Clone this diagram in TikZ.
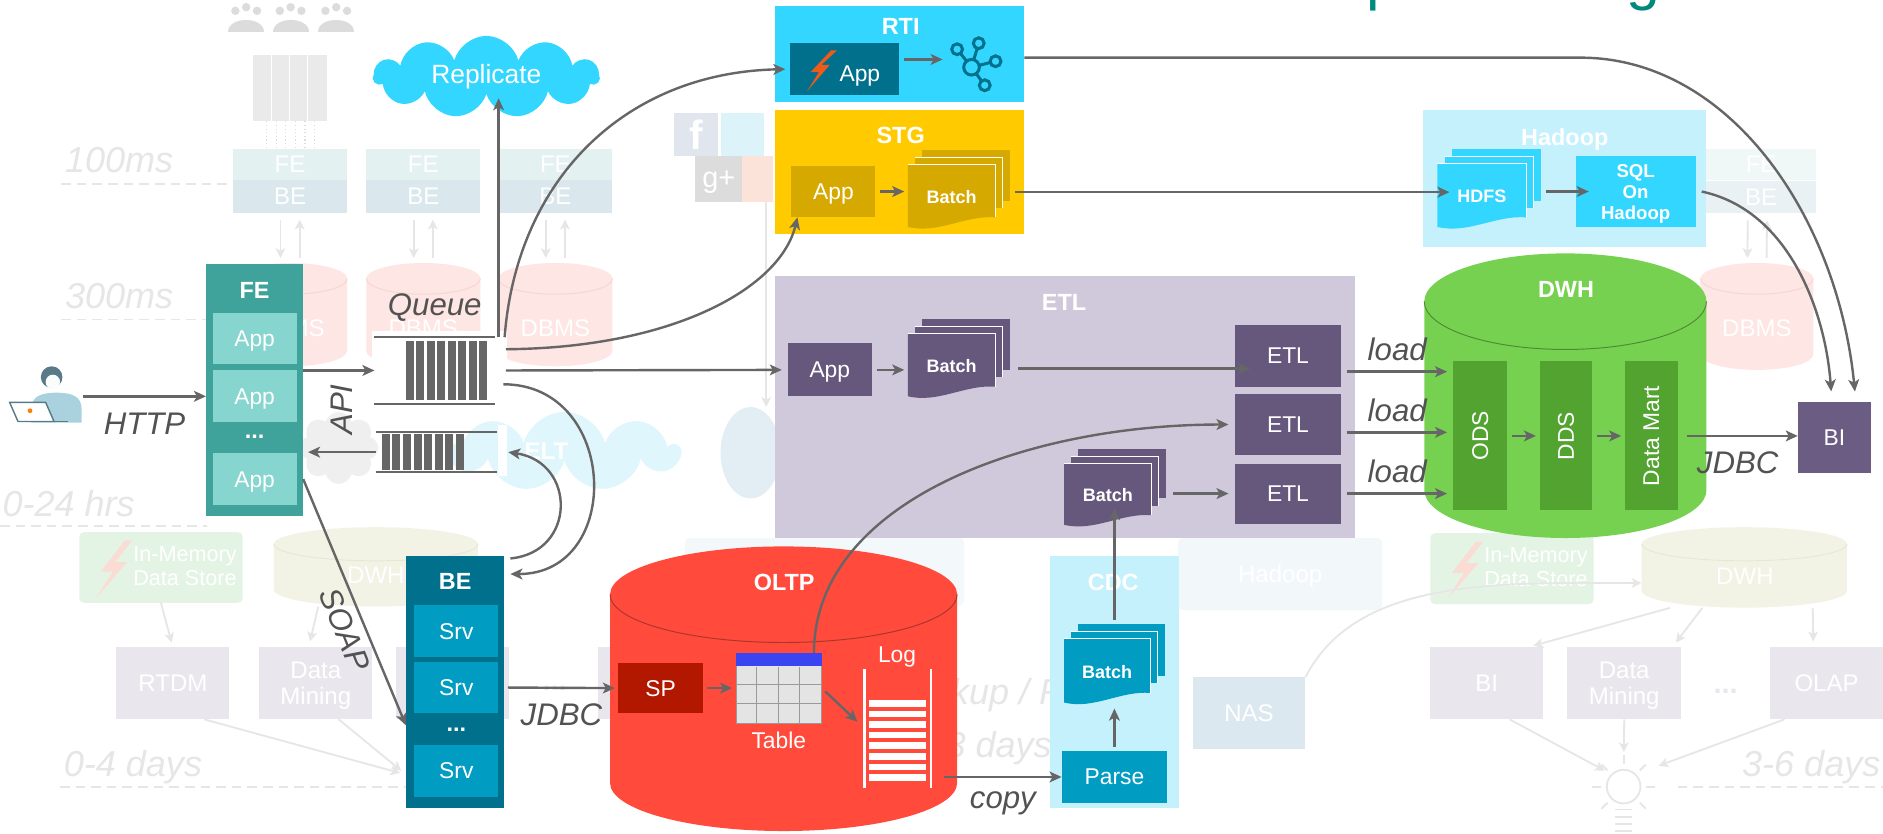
\documentclass[tikz,border=0pt]{standalone}
\usepackage{fontspec}
\setmainfont{Liberation Sans}
\usetikzlibrary{arrows.meta,shapes.symbols}

% palette
\definecolor{arrgray}{HTML}{666666}
\definecolor{lblgray}{HTML}{525252}
\definecolor{feteal}{HTML}{3FA39B}
\definecolor{appteal}{HTML}{87D5CF}
\definecolor{bedark}{HTML}{00708C}
\definecolor{srvblue}{HTML}{009CC2}
\definecolor{cyanbg}{HTML}{33D6FF}
\definecolor{lightcyan}{HTML}{C4F1FC}
\definecolor{stggold}{HTML}{FFCA00}
\definecolor{stgdark}{HTML}{D6A900}
\definecolor{etlbg}{HTML}{D0C9DC}
\definecolor{etlbox}{HTML}{66587C}
\definecolor{bipurple}{HTML}{6B5C84}
\definecolor{dwhgreen}{HTML}{77D150}
\definecolor{dwhdark}{HTML}{52A32F}
\definecolor{dwhedge}{HTML}{4F8A35}
\definecolor{oltpred}{HTML}{FF4A3C}
\definecolor{oltpedge}{HTML}{A8372C}
\definecolor{spred}{HTML}{B21800}
\definecolor{tblgray}{HTML}{E4E4E4}
\definecolor{tblline}{HTML}{9A9A9A}
\definecolor{tblblue}{HTML}{3A44F0}
\definecolor{boltorange}{HTML}{EE5A1A}
\definecolor{userblue}{HTML}{A9D2DE}
\definecolor{userhair}{HTML}{5B7A88}
\definecolor{titleteal}{HTML}{00897D}
% washed-out backdrop
\definecolor{fadetext}{HTML}{E6E6E6}
\definecolor{fadeline}{HTML}{E6E6E6}
\definecolor{fadebox}{HTML}{E9E7ED}
\definecolor{fadefe}{HTML}{E4F1F1}
\definecolor{fadebe}{HTML}{DAE8ED}
\definecolor{fadedb}{HTML}{FDE6E3}
\definecolor{fadedbedge}{HTML}{F5D6D2}
\definecolor{fadedwh}{HTML}{F2F3E5}
\definecolor{fadedwhedge}{HTML}{E6E8D6}
\definecolor{fademem}{HTML}{E4F4E4}
\definecolor{fadebolt}{HTML}{FBDCD4}
\definecolor{fadenas}{HTML}{DCE8EF}
\definecolor{fadehdp}{HTML}{F2F8FA}
\definecolor{fadecyan}{HTML}{DFF6FC}
\definecolor{fadegrey}{HTML}{EFEFEF}
\definecolor{fadeicon}{HTML}{DCDCDC}
\definecolor{fadeglobe}{HTML}{E2EEF4}
\definecolor{fadefb}{HTML}{E0E5EE}
\definecolor{fadetw}{HTML}{DDF3FA}
\definecolor{faderss}{HTML}{FBE3DA}

\tikzset{
  wh/.style 2 args={minimum width={(#1)*1pt}, minimum height={(#2)*1pt}},
  arr/.style={draw=arrgray, line width=2pt, -{Stealth[length=10pt,width=9pt,inset=2.5pt]}},
  farr/.style={draw=fadeline, line width=1.5pt, -{Stealth[length=8pt,width=8pt,inset=2pt]}},
  lbl/.style={text=lblgray, inner sep=0pt, font=\itshape\fontsize{26}{26}\selectfont},
  blk/.style={rectangle, inner sep=0pt, outer sep=0pt, text=white, text depth=0pt,
    font=\fontsize{19}{21}\selectfont},
  ttl/.style={inner sep=0pt, text=white, text depth=0pt, font=\bfseries\fontsize{19.5}{21}\selectfont},
  fadenode/.style={blk, font=\fontsize{20}{22}\selectfont},
  ftime/.style={text=fadetext, inner sep=0pt, anchor=base west, font=\itshape\fontsize{30}{30}\selectfont},
  fdash/.style={draw=fadetext, line width=1.5pt, dash pattern=on 8pt off 5pt},
  qline/.style={draw=arrgray, line width=2pt},
}

% stack of sheets: name, x0, y0, x1, y1, colour, text
\newcommand{\docstack}[7]{%
  \fill[#6] (#2+12,#3-12) rectangle (#4+12,#5-24);
  \fill[#6] (#2+6,#3-6) rectangle (#4+6,#5-18);
  \draw[white, line width=0.8pt] (#2+6,#3-6) -- (#4+6,#3-6) -- (#4+6,#5-18);
  \fill[#6] (#2,#3) -- (#4,#3) -- (#4,#5-10)
    .. controls ({#4-0.35*(#4-#2)},{#5-12}) and ({#2+0.35*(#4-#2)},{#5+4}) .. (#2,#5-2) -- cycle;
  \draw[white, line width=0.8pt] (#2,#3) -- (#4,#3) -- (#4,#5-10);
  \node[blk, wh={(#4)-(#2)}{(#5)-(#3)}, font=\bfseries\fontsize{15}{17}\selectfont]
    (#1) at ({(#2+#4)/2},{(#3+#5)/2}) {#7};
}

% cylinder: name, centre x, x radius, top y, bottom y, y radius, fill, rim
\newcommand{\drum}[8]{%
  \fill[#7] (#2-#3,#5) arc[start angle=180,end angle=360,x radius=#3pt,y radius=#6pt]
    -- (#2+#3,#4) arc[start angle=0,end angle=180,x radius=#3pt,y radius=#6pt] -- cycle;
  \draw[#8, line width=0.8pt] (#2-#3,#4) arc[start angle=180,end angle=360,x radius=#3pt,y radius=#6pt];
  \node[inner sep=0pt, wh={2*#3}{#5-#4+2*#6}] (#1) at (#2,{(#4+#5)/2}) {};
}

\begin{document}
\begin{tikzpicture}[x=1pt,y=-1pt]
  \clip (0,0) rectangle (1568,694);
  \fill[white] (0,0) rectangle (1568,694);

  % heading, cut by the top edge
  \node[anchor=base west, inner sep=0pt, text=titleteal, font=\fontsize{50.5}{50}\selectfont] (heading) at (1138,-1) {processing};

  %% backdrop: latency tiers
  \node[ftime] (t100) at (54,144) {100ms};
  \node[ftime] (t300) at (54,257) {300ms};
  \node[ftime] (t24) at (2,430) {0-24 hrs};
  \node[ftime] (t4) at (53,647) {0-4 days};
  \node[ftime, anchor=base east] (t6) at (1566,647) {3-6 days};
  \begin{scope}
    \clip (700,540) rectangle (874,640);
    \node[ftime] (tbk) at (740,587) {Backup / Restore};
    \node[ftime, anchor=base east] (t3) at (876,631) {1-3 days};
  \end{scope}
  \draw[fdash] (51,153) -- (190,153);
  \draw[fdash] (51,266) -- (172,266);
  \draw[fdash] (0,438) -- (172,438);
  \draw[fdash] (50,655) -- (338,655);
  \draw[fdash] (1397,655) -- (1568,655);

  %% backdrop: users and server farm
  \foreach \cx in {205,242,280}{
    \foreach \dx/\dy in {-9/9,0/6,9/9}
      \fill[fadeicon] (\cx+\dx,\dy) circle[radius=3.5pt];
    \fill[fadeicon] (\cx-15,27) .. controls (\cx-15,13) and (\cx+15,13) .. (\cx+15,27) -- cycle;
  }
  \fill[fadeicon!60] (211,46) rectangle (272,101);
  \foreach \rx in {226,241,256} \draw[white, line width=1pt] (\rx,46) -- (\rx,101);
  \foreach \dx in {222,230,...,262} \draw[fadeicon, line width=1pt, dotted] (\dx,101) -- (\dx,123);

  %% backdrop: web tier and databases
  \foreach \n/\cx in {a/241.5,b/352.5,c/462.5}{
    \drum{db\n}{\cx}{47.5}{232}{292}{13}{fadedb}{fadedbedge}
    \node[fadenode] (dbt\n) at (\cx,273) {DBMS};
    \node[fadenode, fill=fadefe, wh={95}{26}] (fe\n) at (\cx,137) {FE};
    \node[fadenode, fill=fadebe, wh={95}{27}] (be\n) at (\cx,163.5) {BE};
    \draw[farr, shorten <=6pt, shorten >=4pt] ([xshift=-8pt]be\n.south) -- ([xshift=-8pt]db\n.north);
    \draw[farr, shorten <=4pt, shorten >=6pt] ([xshift=8pt]db\n.north) -- ([xshift=8pt]be\n.south);
  }
  \drum{dbd}{1463}{47}{232}{295}{13}{fadedb}{fadedbedge}
  \node[fadenode] (dbtd) at (1463,273) {DBMS};
  \node[fadenode, fill=fadefe!60, wh={91}{26}] (fed) at (1466.5,137) {FE};
  \node[fadenode, fill=fadebe!60, wh={91}{27}] (bed) at (1466.5,164) {BE};
  \draw[farr, shorten <=6pt, shorten >=4pt] ([xshift=-11pt]bed.south) -- ([xshift=-8pt]dbd.north);
  \draw[farr, shorten <=4pt, shorten >=6pt] ([xshift=8pt]dbd.north) -- ([xshift=5pt]bed.south);

  %% backdrop: social feeds
  \node[fadenode, fill=fadefb, wh={37}{36}, font=\bfseries\fontsize{34}{34}\selectfont] (fb) at (579.5,112) {f};
  \node[fadenode, fill=fadetw, wh={36}{36}] (tw) at (618,112) {};
  \node[fadenode, fill=fadeicon, wh={39}{38}, font=\fontsize{24}{24}\selectfont] (gp) at (598.5,149) {g+};
  \node[fadenode, fill=faderss, wh={26}{38}] (rss) at (631,149) {};
  \fill[fadeglobe] (625,377) ellipse[x radius=25pt, y radius=38pt];
  \node[inner sep=0pt, wh={50}{76}] (globe) at (625,377) {};
  \draw[farr] ([xshift=7pt]rss.south) -- ([xshift=13pt]globe.north);

  %% backdrop: clouds
  \node[cloud, cloud puffs=9, aspect=2.6, fill=fadecyan, inner sep=0pt, minimum width=190pt, minimum height=66pt] (eltc) at (470,376) {};
  \node[fadenode, font=\bfseries\fontsize{20}{22}\selectfont] (eltt) at (455,376) {ELT};
  \node[cloud, cloud puffs=8, aspect=1.1, fill=fadegrey, inner sep=0pt, minimum width=66pt, minimum height=60pt] (gcl) at (282,373) {};

  %% backdrop: analytics row
  \node[fadenode, fill=fademem, rounded corners=4pt, wh={136}{59}] (imdl) at (134,472.5) {};
  \fill[fadebolt] (104,450) -- (84,476) -- (94,476) -- (80,498) -- (106,468) -- (96,468) -- (110,450) -- cycle;
  \node[fadenode, align=center, font=\fontsize{18}{20}\selectfont] (imdlt) at (154,471) {In-Memory\\Data Store};
  \node[fadenode, fill=fademem, rounded corners=4pt, wh={136}{59}] (imdr) at (1259,473.5) {};
  \fill[fadebolt] (1229,451) -- (1209,477) -- (1219,477) -- (1205,499) -- (1231,469) -- (1221,469) -- (1235,451) -- cycle;
  \node[fadenode, align=center, font=\fontsize{18}{20}\selectfont] (imdrt) at (1279,472) {In-Memory\\Data Store};
  \node[fadenode, fill=fadeglobe!40, rounded corners=4pt, wh={233}{56}] (cyanf) at (686.5,476) {};
  \node[fadenode, fill=fadehdp, rounded corners=4pt, wh={170}{60}] (hdpf) at (1066,478) {Hadoop};
  \drum{dwhl}{313}{85}{453}{491}{14}{fadedwh}{fadedwhedge}
  \node[fadenode] (dwhlt) at (313,479) {DWH};
  \drum{dwhr}{1452.5}{85.5}{453}{492}{14}{fadedwh}{fadedwhedge}
  \node[fadenode] (dwhrt) at (1453,480) {DWH};
  \node[fadenode, fill=fadebox, wh={94}{60}] (rtdm) at (144,569) {RTDM};
  \node[fadenode, fill=fadebox, wh={94}{60}, align=center] (dminl) at (263,569) {Data\\Mining};
  \node[fadenode, fill=fadebox, wh={94}{60}] (boxl) at (377,569) {};
  \node[fadenode, fill=fadebox, wh={94}{60}] (boxm) at (545,569) {};
  \node[fadenode, text=fadebox, font=\bfseries\fontsize{24}{24}\selectfont] (dotsl) at (462,573) {...};
  \node[fadenode, fill=fadebox, wh={94}{60}] (bir) at (1238,569) {BI};
  \node[fadenode, fill=fadebox, wh={95}{60}, align=center] (dminr) at (1352.5,569) {Data\\Mining};
  \node[fadenode, fill=fadebox, wh={94}{60}] (olap) at (1521,569) {OLAP};
  \node[fadenode, text=fadebox, font=\bfseries\fontsize{24}{24}\selectfont] (dotsr) at (1437,576) {...};
  \node[fadenode, fill=fadenas, wh={94}{60}] (nas) at (1040,594) {NAS};

  % light bulb
  \node[circle, draw=fadeline, line width=1.5pt, minimum size=28pt, inner sep=0pt] (bulb) at (1352,655) {};
  \foreach \a in {0,45,90,135,180,-45,-135}
    \draw[fadeline, line width=1.5pt] (bulb.center) ++(\a:19pt) -- ++(\a:7pt);
  \foreach \yy in {674,680,686,692} \draw[fadeline, line width=1.5pt] (1345,\yy) -- (1359,\yy);

  %% user
  \node[inner sep=0pt, wh={62}{50}] (user) at (38,330) {};
  \fill[userblue] (26,352) -- (26,341) .. controls (26,330) and (34,327) .. (47,327)
    .. controls (60,327) and (68,330) .. (68,341) -- (68,352) -- cycle;
  \fill[userhair] (43,314) circle[radius=9pt];
  \fill[white!95!userblue] (44,318) circle[radius=6pt];
  \filldraw[fill=white, draw=userhair, line width=1.2pt] (8,335) -- (38,335) -- (45,351) -- (15,351) -- cycle;
  \draw[userhair, line width=1.2pt] (15,351) -- (57,351);
  \fill[orange] (25,342) circle[radius=2pt];

  %% front end
  \node[blk, fill=feteal, wh={81}{210}] (fe) at (212,325) {};
  \node[ttl] (fet) at (212,242) {FE};
  \node[blk, fill=appteal, wh={70}{43}] (app1) at (212,282) {App};
  \node[blk, fill=appteal, wh={70}{43}] (app2) at (212,330) {App};
  \node[ttl] (fedots) at (212,364) {...};
  \node[blk, fill=appteal, wh={70}{43}] (app3) at (212,399) {App};

  %% queues
  \fill[white] (310,276) rectangle (422,340);
  \node[inner sep=0pt, wh={100}{55}] (queue) at (362,308.5) {};
  \draw[qline] (queue.north west) -- (queue.north east);
  \draw[qline] (queue.south west) -- (queue.south east);
  \foreach \i in {0,...,7} \fill[arrgray] (338+\i*8.7,284) rectangle (344.6+\i*8.7,333);
  \node[lbl, above=13pt] (queuet) at (queue.north) {Queue};
  \node[inner sep=0pt, wh={101}{33}] (reply) at (363.5,376.5) {};
  \draw[qline] (reply.north west) -- (reply.north east);
  \draw[qline] (reply.south west) -- (reply.south east);
  \foreach \i in {0,...,7} \fill[arrgray] (318+\i*8.8,361) rectangle (324.6+\i*8.8,391);
  \fill[white] (415,354) rectangle (422,396);
  \node[lbl, rotate=90] (api) at (285,341) {API};

  \node[cloud, cloud puffs=11, aspect=3.1, fill=cyanbg, inner sep=0pt, minimum width=188pt, minimum height=60pt,
    text=white, font=\fontsize{22}{22}\selectfont] (rep) at (405,64) {Replicate};

  %% back end
  \node[blk, fill=bedark, wh={82}{210}] (be) at (379,568) {};
  \node[ttl] (bet) at (379,484) {BE};
  \node[blk, fill=srvblue, wh={70}{43}] (srv1) at (380,525.5) {Srv};
  \node[blk, fill=srvblue, wh={70}{43}] (srv2) at (380,572.5) {Srv};
  \node[ttl] (bedots) at (380,608) {...};
  \node[blk, fill=srvblue, wh={70}{44}] (srv3) at (380,642) {Srv};

  % faint flows around the analytics row
  \draw[farr, shorten >=4pt] (imdl.south) -- (rtdm.north);
  \draw[farr, shorten >=5pt] ([xshift=-48pt]dwhl.south) -- ([xshift=-6pt]dminl.north);
  \draw[farr, shorten >=5pt] ([xshift=26pt]rtdm.south) -- ([yshift=-77pt]be.west);
  \draw[farr, shorten >=5pt] ([xshift=19pt]dminl.south) -- ([yshift=-77pt]be.west);
  \draw[farr, shorten >=5pt] ([xshift=-62pt]dwhr.south) -- ([xshift=34pt]bir.north);
  \draw[farr, shorten >=5pt] ([xshift=-35pt]dwhr.south) -- ([xshift=40pt]dminr.north);
  \draw[farr, shorten >=5pt] ([xshift=57pt]dwhr.south) -- ([xshift=-11pt]olap.north);
  \draw[farr, shorten >=6pt] ([xshift=19pt]bir.south) -- (bulb.north west);
  \draw[farr, shorten >=14pt] (dminr.south) -- (bulb.north);
  \draw[farr, shorten >=20pt] ([xshift=-35pt]olap.south) -- (bulb.north east);
  \draw[farr] (nas.north east) .. controls +(43,-84) and +(-117,0) .. ([yshift=-13pt]dwhr.west);

  %% real-time ingest
  \node[blk, fill=cyanbg, wh={208}{80}] (rti) at (749,45) {};
  \node[ttl] (rtit) at (750,22) {RTI};
  \node[blk, fill=bedark, wh={91}{43}] (rtiapp) at (703.5,57.5) {};
  \fill[boltorange] (692,42) -- (675,60) -- (682,60) -- (672,76) -- (691,54) -- (684,54) -- (697,42) -- cycle;
  \node[blk] (rtiappt) at (716,61) {App};
  \coordinate (kin) at (785,49.5);
  \foreach \kx/\ky in {797/41,815/36,829/51,820/71}
    \draw[bedark, line width=2.5pt] (809,56) -- (\kx,\ky);
  \foreach \kx/\ky in {797/41,815/36,829/51,820/71}
    \filldraw[fill=cyanbg, draw=bedark, line width=2.5pt] (\kx,\ky) circle[radius=4.5pt];
  \filldraw[fill=cyanbg, draw=bedark, line width=2.5pt] (809,56) circle[radius=6.5pt];

  %% staging
  \node[blk, fill=stggold, wh={208}{103}] (stg) at (749,143.5) {};
  \node[ttl] (stgt) at (750,113) {STG};
  \node[blk, fill=stgdark, wh={70}{43}] (stgapp) at (694,159.5) {App};
  \docstack{stgbatch}{756}{137}{829}{191}{stgdark}{Batch}

  %% hadoop
  \node[blk, fill=lightcyan, wh={236}{114}] (hadoop) at (1303,149) {};
  \node[ttl] (hadoopt) at (1303,114) {Hadoop};
  \docstack{hdfs}{1197}{136}{1271}{191}{cyanbg}{HDFS}
  \node[blk, fill=cyanbg, wh={100}{59}, align=center, font=\bfseries\fontsize{15.5}{17.5}\selectfont] (sql) at (1362,159.5) {SQL\\On\\Hadoop};

  %% etl
  \node[blk, fill=etlbg, wh={483}{218}] (etl) at (886.5,339) {};
  \node[ttl] (etlt) at (886,252) {ETL};
  \node[blk, fill=etlbox, wh={70}{44}] (etlapp) at (691,308) {App};
  \docstack{etlbatch}{756}{278}{829}{332}{etlbox}{Batch}
  \docstack{etlbatchb}{886}{386}{959}{439}{etlbox}{Batch}
  \node[blk, fill=etlbox, wh={89}{51}] (etl1) at (1072.5,296.5) {ETL};
  \node[blk, fill=etlbox, wh={89}{51}] (etl2) at (1072.5,353.5) {ETL};
  \node[blk, fill=etlbox, wh={89}{50}] (etl3) at (1072.5,411) {ETL};

  %% warehouse
  \drum{dwh}{1303.5}{117.5}{251}{408}{40}{dwhgreen}{dwhedge}
  \node[ttl] (dwht) at (1304,241) {DWH};
  \node[blk, fill=dwhdark, wh={45}{124}] (ods) at (1232.5,363) {};
  \node[blk, fill=dwhdark, wh={44}{124}] (dds) at (1304,363) {};
  \node[blk, fill=dwhdark, wh={44}{124}] (dm) at (1375,363) {};
  \node[blk, rotate=90] (odst) at (ods) {ODS};
  \node[blk, rotate=90] (ddst) at (dds) {DDS};
  \node[blk, rotate=90] (dmt) at (dm) {Data Mart};
  \node[blk, fill=bipurple, wh={61}{59}] (bi) at (1527.5,364.5) {BI};

  %% oltp
  \drum{oltp}{652.5}{144.5}{495}{652}{40}{oltpred}{oltpedge}
  \node[ttl] (oltpt) at (653,485) {OLTP};
  \node[blk, fill=spred, wh={70}{42}] (sp) at (550,573) {SP};
  \node[inner sep=0pt, fill=tblgray, draw=tblline, line width=0.6pt, wh={71}{58}] (tbl) at (648.5,573) {};
  \fill[tblblue] (tbl.north west) rectangle ([yshift=-11pt]tbl.north east);
  \foreach \gx in {630,648,666} \draw[tblline, line width=0.6pt] (\gx,555) -- (\gx,602);
  \foreach \gy in {570,586} \draw[tblline, line width=0.6pt] (613,\gy) -- (684,\gy);
  \node[blk] (tblt) at (648.5,616) {Table};
  \node[inner sep=0pt, wh={55}{99}] (lg) at (747.5,606.5) {};
  \draw[white, line width=2pt] (lg.north west) -- (lg.south west);
  \draw[white, line width=2pt] (lg.north east) -- (lg.south east);
  \foreach \i in {0,...,7} \fill[white] (724,583+\i*8.8) rectangle (771,588.5+\i*8.8);
  \node[blk] (lgt) at (747,545) {Log};

  %% cdc
  \node[blk, fill=lightcyan, wh={108}{210}] (cdc) at (928,568) {};
  \node[ttl] (cdct) at (927,485) {CDC};
  \docstack{cdcbatch}{886}{532}{958}{587}{srvblue}{Batch}
  \node[blk, fill=srvblue, wh={88}{44}] (parse) at (928,647) {Parse};

  %% connectors
  \draw[arr] (user.east) -- (user.east -| fe.west) node[midway, below=13pt, lbl] {HTTP};
  \draw[arr] (fe.east |- queue.west) -- (queue.west);
  \draw[arr, shorten >=4pt] (reply.west) -- (reply.west -| fe.east);
  \draw[arr] (app3.east -| fe.east) -- ([yshift=-36pt]be.west);
  \node[lbl, rotate=-68] (soap) at (287,524) {SOAP};
  \draw[arr, shorten >=3pt] ([xshift=3pt]queue.north east) -- ([xshift=3pt]queue.north east |- rep.south);
  \draw[arr, shorten >=4pt] ([xshift=8pt]queue.north east) .. controls +(10,-131) and +(-138,3) .. (rtiapp.west);
  \draw[arr] ([xshift=9pt,yshift=-10pt]queue.north east) .. controls +(139,-1) and +(-14,59) .. ([xshift=5pt]stgapp.south west);
  \draw[arr, shorten >=5pt] ([xshift=9pt]queue.east) -- (etlapp.west);
  \draw[arr] ([xshift=7pt,yshift=-11.5pt]queue.east) .. controls +(96,0) and +(95,0) .. ([xshift=5pt,yshift=-15pt]be.north east);
  \draw[arr] ([xshift=5pt,yshift=-2pt]be.north east) .. controls +(55,-5) and +(57,8.5) .. ([xshift=9pt]reply.east);
  \draw[arr, shorten <=3pt, shorten >=3pt] (srv2.east -| be.east) -- (sp.west) node[midway, below=12pt, lbl] {JDBC};

  \draw[arr, shorten <=4pt] ([yshift=8pt]rtiapp.east) -- (kin);
  \draw[arr, shorten >=9pt] ([yshift=-3pt]rti.east) -- ++(463,0) .. controls +(124,0) and +(-15.5,-155) .. ([xshift=18pt]bi.north);
  \draw[arr, shorten <=4pt, shorten >=3pt] (stgapp.east) -- (stgapp.east -| stgbatch.west);
  \draw[arr, shorten >=6pt] ([xshift=16pt,yshift=4pt]stgbatch.east) -- ([xshift=16pt,yshift=4pt]stgbatch.east -| hdfs.west);
  \draw[arr, shorten >=5pt] ([xshift=16pt,yshift=4pt]hdfs.east) -- ([xshift=16pt,yshift=4pt]hdfs.east -| sql.west);
  \draw[arr, shorten >=9pt] ([xshift=5pt]sql.east) .. controls +(73,15.5) and +(-5.5,-75) .. ([xshift=-2pt]bi.north);

  \draw[arr, shorten <=4pt, shorten >=3pt] (etlapp.east) -- (etlapp.east -| etlbatch.west);
  \draw[arr, shorten >=6pt] ([xshift=19pt,yshift=-2pt]etlbatch.east) -- ([xshift=19pt,yshift=-2pt]etlbatch.east -| etl1.west);
  \draw[arr, shorten >=5pt] ([xshift=18pt]etlbatchb.east |- etl3.west) -- (etl3.west);
  \draw[arr, shorten >=5pt] (tbl.45) .. controls +(0,-124) and +(-178,0) .. (etl2.west);
  \draw[arr, shorten <=5pt, shorten >=5pt] ([yshift=-13pt]etl1.east) -- ([yshift=-13pt]etl1.east -| ods.west) node[midway, above=8pt, lbl] {load};
  \draw[arr, shorten <=5pt, shorten >=5pt] ([yshift=-6.5pt]etl2.east) -- ([yshift=-6.5pt]etl2.east -| ods.west) node[midway, above=8pt, lbl] {load};
  \draw[arr, shorten <=5pt, shorten >=5pt] (etl3.east) -- (etl3.east -| ods.west) node[midway, above=8pt, lbl] {load};
  \draw[arr, shorten <=4pt, shorten >=3pt] (ods.east) -- (dds.west);
  \draw[arr, shorten <=4pt, shorten >=3pt] (dds.east) -- (dm.west);
  \draw[arr, shorten <=8pt] (dm.east) -- (dm.east -| bi.west) node[midway, below=12pt, lbl] {JDBC};

  \draw[arr, shorten <=4pt, shorten >=3pt] (sp.east) -- (tbl.west);
  \draw[arr, shorten <=4pt, shorten >=8pt] (tbl.east) -- (lg.west);
  \draw[arr] ([xshift=11pt]lg.east |- parse.west) -- (parse.west) node[midway, below=11pt, lbl] {copy};
  \draw[arr, shorten <=3pt, shorten >=3pt] (parse.north) -- (parse.north |- cdcbatch.south);
  \draw[arr] ([xshift=6pt,yshift=16pt]cdcbatch.north) -- ([xshift=6pt,yshift=16pt]cdcbatch.north |- etlbatchb.south);
\end{tikzpicture}
\end{document}
